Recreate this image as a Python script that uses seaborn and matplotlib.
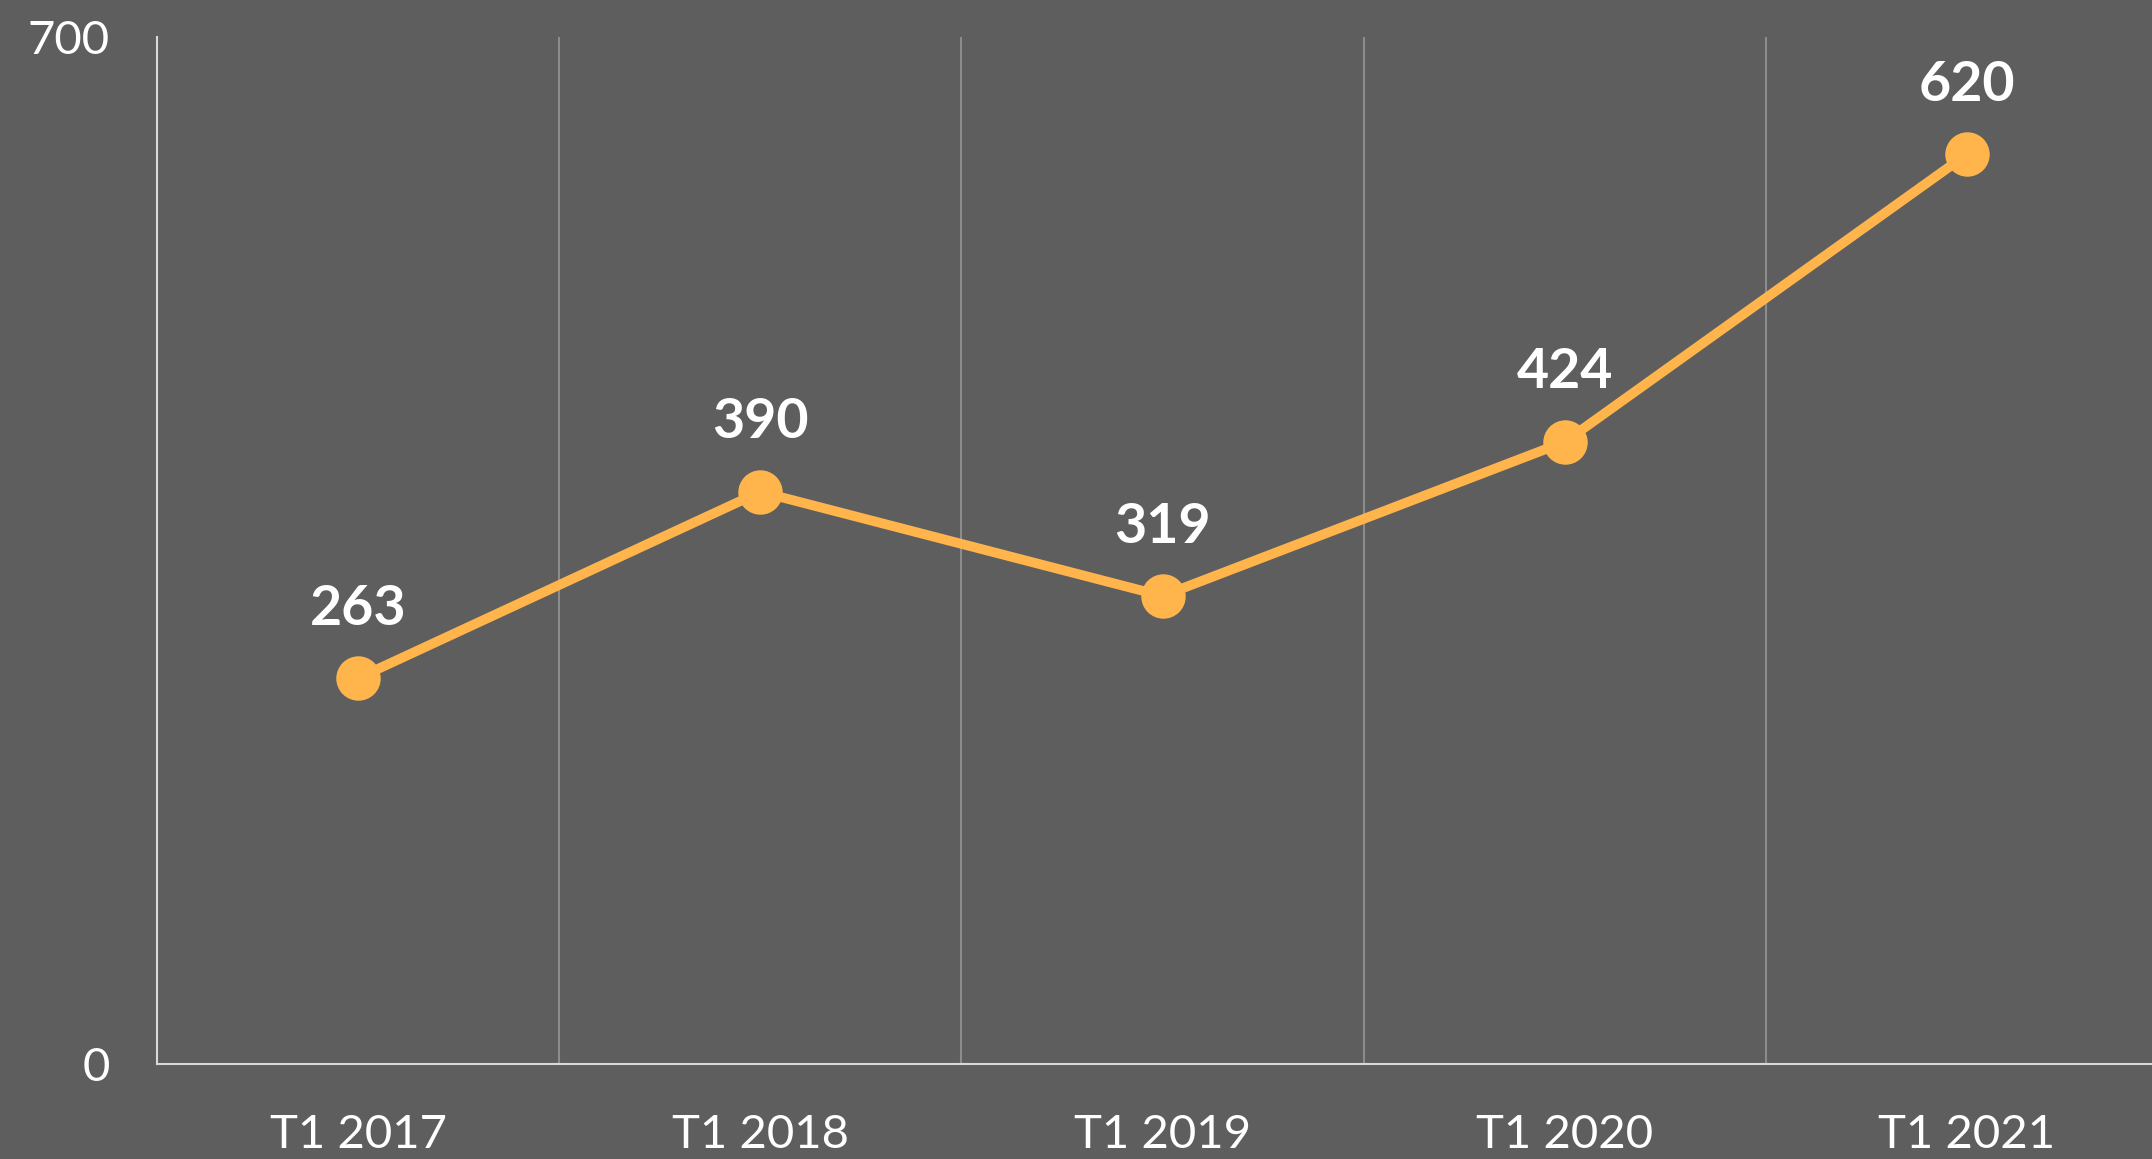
import pandas as pd
import matplotlib
matplotlib.use("Agg")
import matplotlib.pyplot as plt
import seaborn as sns

# data
periods = ["T1 2017", "T1 2018", "T1 2019", "T1 2020", "T1 2021"]
values = [263, 390, 319, 424, 620]

df = pd.DataFrame({"period": periods, "value": values})

bg = "#5e5e5e"
line_col = "#ffb54c"
axis_col = "#d9d9d9"
grid_col = "#8c8c8c"

sns.set_style("white")
plt.rcParams["font.family"] = ["Lato", "DejaVu Sans"]

fig = plt.figure(figsize=(21.52, 11.59), dpi=100, facecolor=bg)
ax = fig.add_axes([0.0730, 0.0820, 0.9344, 0.8861])
ax.set_facecolor(bg)

sns.lineplot(data=df, x="period", y="value", ax=ax, color=line_col,
             linewidth=7, marker="o", markersize=32, markeredgewidth=0,
             sort=False)

# data labels above each point
for i, v in enumerate(values):
    ax.annotate(str(v), (i, v), xytext=(0, 50), textcoords="offset points",
                ha="center", va="center", fontsize=40, fontweight="bold",
                color="white")

ax.set_xlim(-0.5, len(periods) - 0.5)
ax.set_ylim(0, 700)
ax.set_yticks([0, 700])
ax.set_xticks(range(len(periods)))
ax.set_xticklabels(periods)
ax.set_xticks([i + 0.5 for i in range(len(periods) - 1)], minor=True)
ax.grid(which="minor", axis="x", color=grid_col, linewidth=1.5)
ax.grid(which="major", visible=False)

ax.tick_params(axis="both", which="both", length=0, colors="white", labelsize=34)
ax.tick_params(axis="x", pad=36)
ax.tick_params(axis="y", pad=34)
ax.set_xlabel("")
ax.set_ylabel("")

for side in ["top", "right"]:
    ax.spines[side].set_visible(False)
for side in ["left", "bottom"]:
    ax.spines[side].set_color(axis_col)
    ax.spines[side].set_linewidth(1.5)

fig.savefig("out.png", dpi=100, facecolor=bg)
